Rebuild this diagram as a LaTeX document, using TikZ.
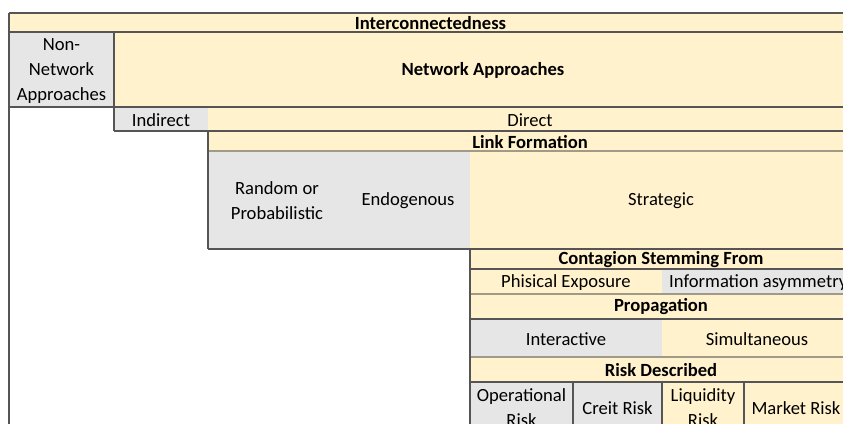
\documentclass[tikz,border=0pt]{standalone}
\usepackage{fontspec}
\setmainfont{Carlito}
\definecolor{cellyellow}{HTML}{FFF2CC}
\definecolor{cellgray}{HTML}{E7E6E6}
\definecolor{rule}{HTML}{555555}
\definecolor{softrule}{HTML}{A09A88}
\begin{document}
\begin{tikzpicture}[x=1pt,y=-1pt,
  txt/.style={inner sep=0pt,align=center,font=\fontsize{18.6}{25}\selectfont},
  hdr/.style={txt,font=\fontsize{18.6}{25}\selectfont\bfseries},
  grid/.style={draw=rule,line width=1.1pt},
  softgrid/.style={draw=softrule,line width=1.6pt}]
\useasboundingbox (0,0) rectangle (843,423);
\clip (0,0) rectangle (843,423);
\fill[white] (0,0) rectangle (843,423);
% cell backgrounds
\fill[cellyellow] (9,13) rectangle (852,32);
\fill[cellgray]   (9,32) rectangle (114,107);
\fill[cellyellow] (114,32) rectangle (852,107);
\fill[cellgray]   (114,107) rectangle (208,131);
\fill[cellyellow] (208,107) rectangle (852,131);
\fill[cellyellow] (208,131) rectangle (852,151);
\fill[cellgray]   (208,151) rectangle (470,249);
\fill[cellyellow] (470,151) rectangle (852,249);
\fill[cellyellow] (470,249) rectangle (852,269);
\fill[cellyellow] (470,269) rectangle (662,294);
\fill[cellgray]   (662,269) rectangle (852,294);
\fill[cellyellow] (470,294) rectangle (852,319);
\fill[cellgray]   (470,319) rectangle (662,357);
\fill[cellyellow] (662,319) rectangle (852,357);
\fill[cellyellow] (470,357) rectangle (852,382);
\fill[cellgray]   (470,382) rectangle (662,440);
\fill[cellyellow] (662,382) rectangle (852,440);
% borders
\draw[grid] (9,13) -- (852,13);
\draw[grid] (9,32) -- (852,32);
\draw[grid] (9,107) -- (852,107);
\draw[grid] (114,131) -- (852,131);
\draw[softgrid] (208,151) -- (852,151);
\draw[grid] (208,249) -- (852,249);
\draw[grid] (470,269) -- (852,269);
\draw[softgrid] (470,294) -- (852,294);
\draw[grid] (470,319) -- (852,319);
\draw[softgrid] (470,357) -- (852,357);
\draw[grid] (470,382) -- (852,382);
\draw[grid] (9,13) -- (9,440);
\draw[grid] (114,32) -- (114,131);
\draw[grid] (208,131) -- (208,249);
\draw[grid] (470,249) -- (470,440);
\draw[grid] (573,382) -- (573,440);
\draw[grid] (662,382) -- (662,440);
\draw[grid] (744,382) -- (744,440);
% labels
\node[hdr] (inter) at (430.5,23) {Interconnectedness};
\node[txt] (nonnet) at (61.5,71) {Non-\\Network\\Approaches};
\node[hdr] (netapp) at (483,70) {Network Approaches};
\node[txt] (indirect) at (161,120) {Indirect};
\node[txt] (direct) at (530,120) {Direct};
\node[hdr] (linkform) at (530,142) {Link Formation};
\node[txt] (random) at (277,201) {Random or\\Probabilistic};
\node[txt] (endog) at (408,201) {Endogenous};
\node[txt] (strategic) at (661,201) {Strategic};
\node[hdr] (contagion) at (661,260) {Contagion Stemming From};
\node[txt] (phisical) at (566,283) {Phisical Exposure};
\node[txt,anchor=west] (infoasym) at (669,283) {Information asymmetry};
\node[hdr] (propag) at (661,307) {Propagation};
\node[txt] (interactive) at (566,339) {Interactive};
\node[txt] (simult) at (757,339) {Simultaneous};
\node[hdr] (riskdesc) at (661,370) {Risk Described};
\node[txt] (oprisk) at (521.5,408) {Operational\\Risk};
\node[txt] (credit) at (617.5,408) {Creit Risk};
\node[txt] (liquid) at (703,408) {Liquidity\\Risk};
\node[txt] (market) at (796,408) {Market Risk};
\end{tikzpicture}
\end{document}
